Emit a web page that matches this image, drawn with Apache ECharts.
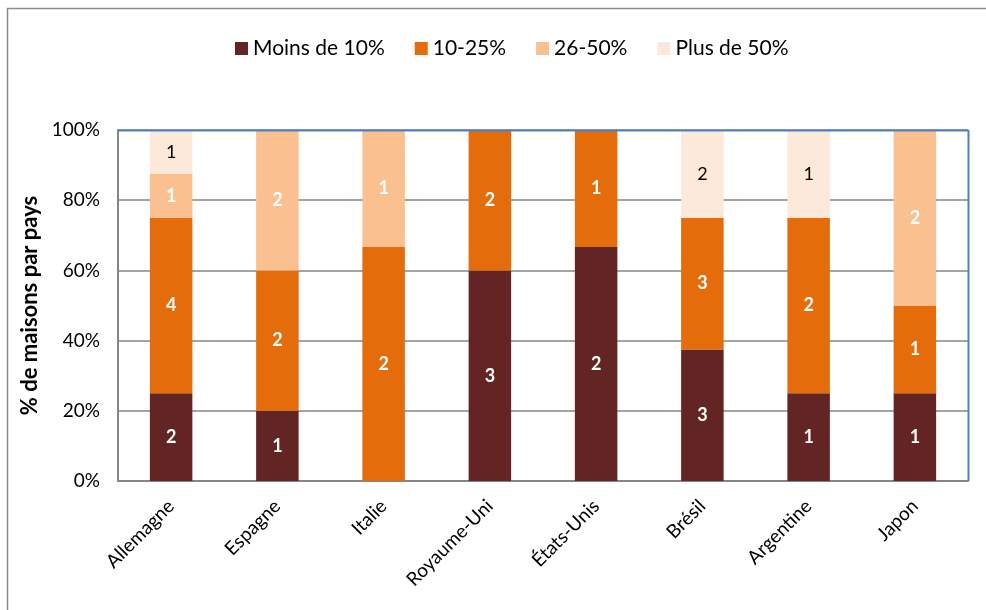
<!DOCTYPE html>
<html>
<head>
<meta charset="utf-8">
<script src="https://cdn.jsdelivr.net/npm/echarts@6/dist/echarts.min.js"></script>
<style>
  html, body { margin: 0; padding: 0; background: #fff; }
  #chart { width: 986px; height: 610px; }
</style>
</head>
<body>
<div id="chart"></div>
<script>
// Countries along the x axis
const countries = ['Allemagne', 'Espagne', 'Italie', 'Royaume-Uni', 'États-Unis', 'Brésil', 'Argentine', 'Japon'];

// Number of houses per country in each share band
const seriesNames = ['Moins de 10%', '10-25%', '26-50%', 'Plus de 50%'];
const moins10 = [2, 1, 0, 3, 2, 3, 1, 1];
const de10a25 = [4, 2, 2, 2, 1, 3, 2, 1];
const de26a50 = [1, 2, 1, 0, 0, 0, 0, 2];
const plus50 = [1, 0, 0, 0, 0, 2, 1, 0];

const yTicks = [0, 20, 40, 60, 80, 100];

const counts = [moins10, de10a25, de26a50, plus50];
const colors = ['#632523', '#E46C0A', '#FAC090', '#FDE9D9'];
const labelColors = ['#ffffff', '#ffffff', '#ffffff', '#000000'];

const totals = countries.map((_, i) => counts.reduce((s, arr) => s + arr[i], 0));

const FONT = 'Lato, "Open Sans", sans-serif';

const chart = echarts.init(document.getElementById('chart'));

const series = counts.map((arr, k) => ({
  name: seriesNames[k],
  type: 'bar',
  stack: 'total',
  barWidth: '40%',
  itemStyle: { color: colors[k] },
  label: {
    show: true,
    position: 'inside',
    color: labelColors[k],
    fontFamily: FONT,
    fontSize: 18,
    fontWeight: k === 3 ? 'normal' : 'bold',
    formatter: p => (arr[p.dataIndex] > 0 ? String(arr[p.dataIndex]) : '')
  },
  data: arr.map((v, i) => (v / totals[i]) * 100)
}));

chart.setOption({
  animation: false,
  backgroundColor: '#ffffff',
  graphic: [
    {
      type: 'rect',
      shape: { x: 7.5, y: 8.5, width: 1000, height: 700 },
      style: { fill: 'none', stroke: '#8c8c8c', lineWidth: 1.5 },
      silent: true
    },
    {
      type: 'line',
      shape: { x1: 118, y1: 130.5, x2: 968.5, y2: 130.5 },
      style: { stroke: '#4F81BD', lineWidth: 2 },
      z: 10
    },
    {
      type: 'line',
      shape: { x1: 968.5, y1: 130, x2: 968.5, y2: 481 },
      style: { stroke: '#4F81BD', lineWidth: 2 },
      z: 10
    }
  ],
  legend: {
    top: 33,
    left: 230,
    itemWidth: 13,
    itemHeight: 13,
    itemGap: 30,
    icon: 'rect',
    textStyle: { fontFamily: FONT, fontSize: 21, color: '#000' },
    data: seriesNames
  },
  grid: { left: 118, right: 18, top: 130, bottom: 129 },
  xAxis: {
    type: 'category',
    data: countries,
    axisLine: { show: true, lineStyle: { color: '#868686', width: 2 } },
    axisTick: { show: false },
    axisLabel: {
      rotate: 45,
      interval: 0,
      margin: 22,
      color: '#000',
      fontFamily: FONT,
      fontSize: 19
    }
  },
  yAxis: {
    type: 'value',
    min: 0,
    max: 100,
    interval: 20,
    name: '% de maisons par pays',
    nameLocation: 'middle',
    nameGap: 76,
    nameTextStyle: { fontFamily: FONT, fontSize: 22, fontWeight: 'bold', color: '#000' },
    axisLine: { show: true, lineStyle: { color: '#868686', width: 2 } },
    axisTick: { show: false },
    axisLabel: {
      color: '#000',
      fontFamily: FONT,
      fontSize: 19,
      margin: 18,
      formatter: v => (yTicks.includes(v) ? v + '%' : '')
    },
    splitLine: { show: true, lineStyle: { color: '#868686', width: 1.5 } }
  },
  series: series
});
</script>
</body>
</html>
